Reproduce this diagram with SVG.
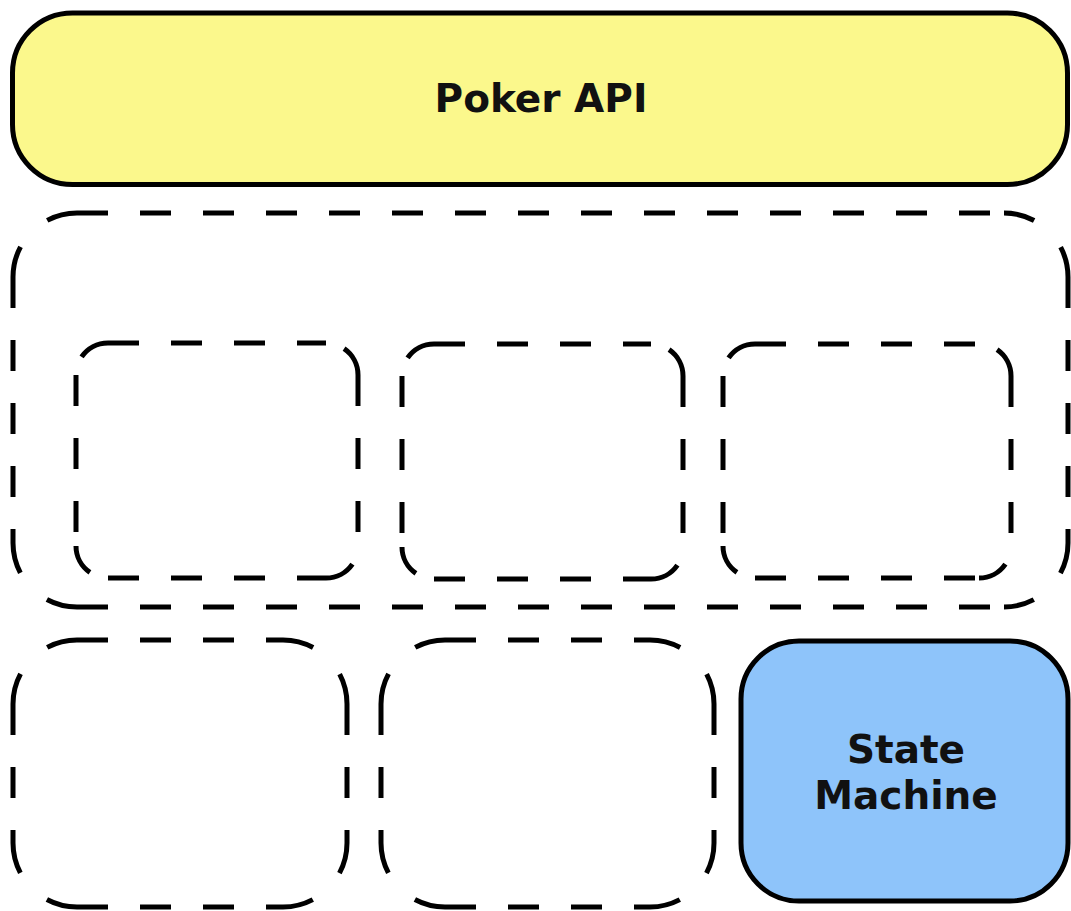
<svg xmlns="http://www.w3.org/2000/svg" width="1071" height="911" viewBox="0 0 1071 911">
  <style>
    .solid { stroke: #000; stroke-width: 5; }
    .api { fill: #fbf88c; }
    .sm { fill: #8ec4fa; }
    .dash path { fill: none; stroke: #000; stroke-width: 5; stroke-linecap: butt; }
    .side { stroke-dasharray: 31 32; }
    .arcS { stroke-dasharray: 31 60; }
    .arcL { stroke-dasharray: 31 38 40; }
    .label { font-family: "DejaVu Sans", "Liberation Sans", sans-serif; font-weight: bold; font-size: 39px; fill: #111; text-anchor: middle; }
  </style>

  <!-- top layer -->
  <g id="poker-api">
    <rect class="solid api" x="12.5" y="13" width="1055" height="171.5" rx="60" ry="60"/>
    <text class="label" x="541" y="112">Poker API</text>
  </g>

  <!-- middle container, each side and corner dashed on its own -->
  <g id="middle-group" class="dash">
    <path class="side" d="M77,213 H1004 M77,607 H1004 M13,277 V543 M1068,277 V543"/>
    <path class="arcL" d="M77,213 A64,64 0 0 0 13,277"/>
    <path class="arcL" d="M1068,277 A64,64 0 0 0 1004,213"/>
    <path class="arcL" d="M1004,607 A64,64 0 0 0 1068,543"/>
    <path class="arcL" d="M13,543 A64,64 0 0 0 77,607"/>
  </g>

  <g id="inner-1" class="dash">
    <path class="side" d="M108,343 H326 M108,578 H326 M76,375 V546 M358,375 V546"/>
    <path class="arcS" d="M108,343 A32,32 0 0 0 76,375"/>
    <path class="arcS" d="M358,375 A32,32 0 0 0 326,343"/>
    <path class="arcS" d="M326,578 A32,32 0 0 0 358,546"/>
    <path class="arcS" d="M76,546 A32,32 0 0 0 108,578"/>
  </g>

  <g id="inner-2" class="dash">
    <path class="side" d="M434,344 H651 M434,579 H651 M402,376 V547 M683,376 V547"/>
    <path class="arcS" d="M434,344 A32,32 0 0 0 402,376"/>
    <path class="arcS" d="M683,376 A32,32 0 0 0 651,344"/>
    <path class="arcS" d="M651,579 A32,32 0 0 0 683,547"/>
    <path class="arcS" d="M402,547 A32,32 0 0 0 434,579"/>
  </g>

  <g id="inner-3" class="dash">
    <path class="side" d="M755,344 H979 M755,578 H979 M723,376 V546 M1011,376 V546"/>
    <path class="arcS" d="M755,344 A32,32 0 0 0 723,376"/>
    <path class="arcS" d="M1011,376 A32,32 0 0 0 979,344"/>
    <path class="arcS" d="M979,578 A32,32 0 0 0 1011,546"/>
    <path class="arcS" d="M723,546 A32,32 0 0 0 755,578"/>
  </g>

  <!-- bottom row -->
  <g id="bottom-1" class="dash">
    <path class="side" d="M77,640 H283 M77,907 H283 M13,704 V843 M347,704 V843"/>
    <path class="arcL" d="M77,640 A64,64 0 0 0 13,704"/>
    <path class="arcL" d="M347,704 A64,64 0 0 0 283,640"/>
    <path class="arcL" d="M283,907 A64,64 0 0 0 347,843"/>
    <path class="arcL" d="M13,843 A64,64 0 0 0 77,907"/>
  </g>

  <g id="bottom-2" class="dash">
    <path class="side" d="M445,640 H650 M445,907 H650 M381,704 V843 M714,704 V843"/>
    <path class="arcL" d="M445,640 A64,64 0 0 0 381,704"/>
    <path class="arcL" d="M714,704 A64,64 0 0 0 650,640"/>
    <path class="arcL" d="M650,907 A64,64 0 0 0 714,843"/>
    <path class="arcL" d="M381,843 A64,64 0 0 0 445,907"/>
  </g>

  <g id="state-machine">
    <rect class="solid sm" x="741" y="641" width="327" height="260" rx="58" ry="58"/>
    <text class="label" x="906" y="763">State</text>
    <text class="label" x="906" y="809">Machine</text>
  </g>

  <g id="connectors"/>
</svg>
